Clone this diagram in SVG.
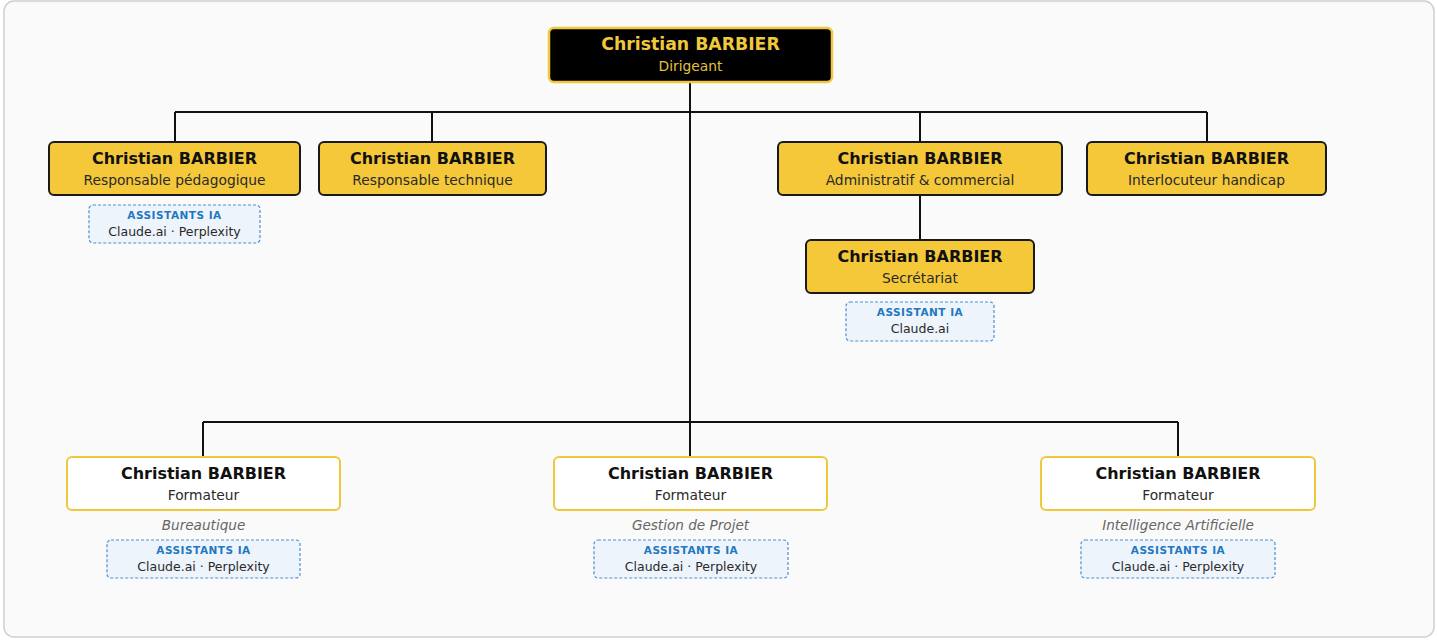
<svg xmlns="http://www.w3.org/2000/svg" width="1437" height="640" viewBox="0 0 1437 640">
<style>
.name{font-family:"DejaVu Sans",sans-serif;font-weight:bold;font-size:16px;text-anchor:middle;fill:#111}
.role{font-family:"DejaVu Sans",sans-serif;font-size:13.8px;text-anchor:middle;fill:#2a2a2a}
.gold{fill:#f4c838;stroke:#1a1a1a;stroke-width:2}
.white{fill:#fff;stroke:#f0c83c;stroke-width:2}
.ia{fill:#eef4fb;stroke:#4a90d0;stroke-width:1.2;stroke-dasharray:3 2}
.iat{font-family:"DejaVu Sans",sans-serif;font-weight:bold;font-size:10.5px;text-anchor:middle;fill:#1f78c1;letter-spacing:0.5px}
.iav{font-family:"DejaVu Sans",sans-serif;font-size:12.5px;text-anchor:middle;fill:#2a2a2a}
.dom{font-family:"DejaVu Sans",sans-serif;font-style:italic;font-size:13.6px;text-anchor:middle;fill:#666}
.line{stroke:#111;stroke-width:2;fill:none}
</style>
<rect x="4" y="1" width="1430" height="636" rx="10" fill="#fafafa" stroke="#cfcfcf" stroke-width="1.5"/>
<g id="connectors">
<path class="line" d="M690 82V422M175 112H1207M175 112V142M432 112V142M920 112V142M1207 112V142M920 195V240M203 422H1178M203 422V457M690 422V457M1178 422V457"/>
</g>
<g id="dirigeant">
<rect x="549" y="28" width="283" height="54" rx="5" fill="#000" stroke="#f0c83c" stroke-width="2.5"/>
<text x="690.5" y="50" class="name" style="fill:#f0c83c;font-size:17.3px">Christian BARBIER</text>
<text x="690.5" y="70.5" class="role" style="fill:#e0c040">Dirigeant</text>
</g>
<g id="resp-peda">
<rect x="49" y="142" width="251" height="53" rx="5" class="gold"/>
<text x="174.5" y="164" class="name">Christian BARBIER</text>
<text x="174.5" y="185" class="role">Responsable pédagogique</text>
</g>
<g id="ia-peda">
<rect x="89" y="205" width="171" height="38" rx="4" class="ia"/>
<text x="174.5" y="219" class="iat">ASSISTANTS IA</text>
<text x="174.5" y="236" class="iav">Claude.ai · Perplexity</text>
</g>
<g id="resp-tech">
<rect x="319" y="142" width="227" height="53" rx="5" class="gold"/>
<text x="432.5" y="164" class="name">Christian BARBIER</text>
<text x="432.5" y="185" class="role">Responsable technique</text>
</g>
<g id="admin">
<rect x="778" y="142" width="284" height="53" rx="5" class="gold"/>
<text x="920" y="164" class="name">Christian BARBIER</text>
<text x="920" y="185" class="role">Administratif &amp; commercial</text>
</g>
<g id="handicap">
<rect x="1087" y="142" width="239" height="53" rx="5" class="gold"/>
<text x="1206.5" y="164" class="name">Christian BARBIER</text>
<text x="1206.5" y="185" class="role">Interlocuteur handicap</text>
</g>
<g id="secretariat">
<rect x="806" y="240" width="228" height="53" rx="5" class="gold"/>
<text x="920" y="262" class="name">Christian BARBIER</text>
<text x="920" y="283" class="role">Secrétariat</text>
</g>
<g id="ia-secr">
<rect x="846" y="302" width="148" height="39" rx="4" class="ia"/>
<text x="920" y="316" class="iat">ASSISTANT IA</text>
<text x="920" y="333" class="iav">Claude.ai</text>
</g>
<g id="form-bureau">
<rect x="67" y="457" width="273" height="53" rx="5" class="white"/>
<text x="203.5" y="479" class="name">Christian BARBIER</text>
<text x="203.5" y="500" class="role">Formateur</text>
<text x="203.5" y="530" class="dom">Bureautique</text>
<rect x="107" y="540" width="193" height="38" rx="4" class="ia"/>
<text x="203.5" y="554" class="iat">ASSISTANTS IA</text>
<text x="203.5" y="571" class="iav">Claude.ai · Perplexity</text>
</g>
<g id="form-projet">
<rect x="554" y="457" width="273" height="53" rx="5" class="white"/>
<text x="690.5" y="479" class="name">Christian BARBIER</text>
<text x="690.5" y="500" class="role">Formateur</text>
<text x="690.5" y="530" class="dom">Gestion de Projet</text>
<rect x="594" y="540" width="194" height="38" rx="4" class="ia"/>
<text x="691" y="554" class="iat">ASSISTANTS IA</text>
<text x="691" y="571" class="iav">Claude.ai · Perplexity</text>
</g>
<g id="form-ia">
<rect x="1041" y="457" width="274" height="53" rx="5" class="white"/>
<text x="1178" y="479" class="name">Christian BARBIER</text>
<text x="1178" y="500" class="role">Formateur</text>
<text x="1178" y="530" class="dom">Intelligence Artificielle</text>
<rect x="1081" y="540" width="194" height="38" rx="4" class="ia"/>
<text x="1178" y="554" class="iat">ASSISTANTS IA</text>
<text x="1178" y="571" class="iav">Claude.ai · Perplexity</text>
</g>
</svg>
